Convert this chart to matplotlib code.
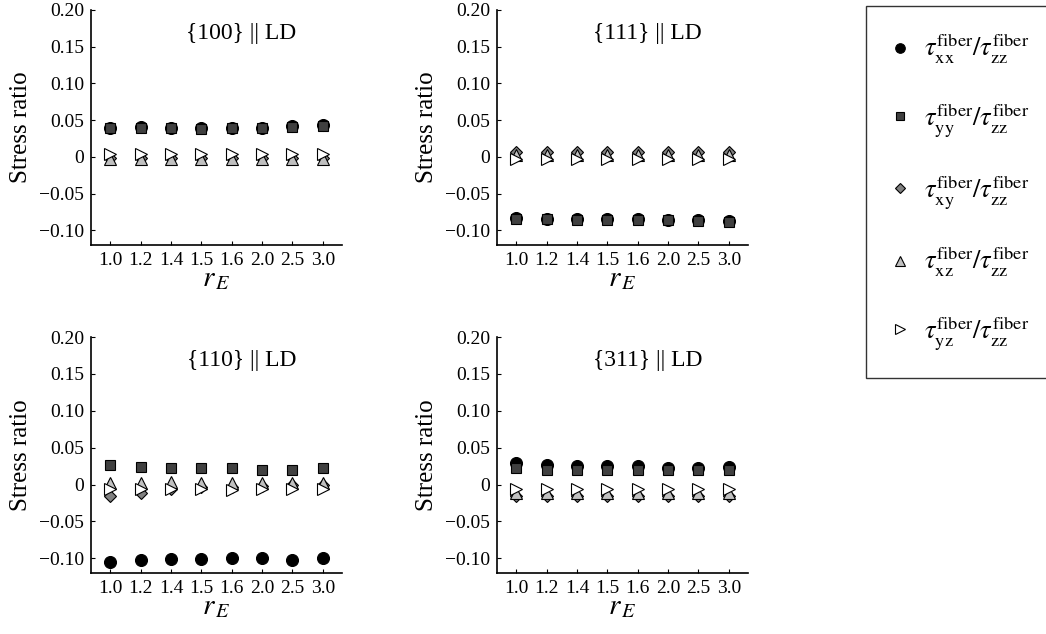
import matplotlib
matplotlib.use("Agg")
import matplotlib.pyplot as plt
import numpy as np

plt.rcParams["font.family"] = ["Liberation Serif", "DejaVu Serif"]
plt.rcParams["mathtext.fontset"] = "stix"

# data
r_labels = ["1.0", "1.2", "1.4", "1.5", "1.6", "2.0", "2.5", "3.0"]
panel_titles = ["{100} || LD", "{111} || LD", "{110} || LD", "{311} || LD"]

xx_100 = [0.040, 0.041, 0.040, 0.039, 0.040, 0.040, 0.042, 0.043]
yy_100 = [0.039, 0.040, 0.039, 0.038, 0.039, 0.039, 0.041, 0.042]
xy_100 = [-0.001, -0.001, -0.001, -0.001, -0.001, -0.001, -0.001, -0.001]
xz_100 = [-0.003, -0.003, -0.003, -0.003, -0.003, -0.003, -0.003, -0.003]
yz_100 = [0.004, 0.004, 0.004, 0.004, 0.004, 0.004, 0.004, 0.004]

xx_111 = [-0.083, -0.084, -0.085, -0.085, -0.085, -0.086, -0.086, -0.087]
yy_111 = [-0.084, -0.085, -0.086, -0.086, -0.086, -0.086, -0.087, -0.088]
xy_111 = [0.006, 0.006, 0.006, 0.006, 0.006, 0.006, 0.006, 0.006]
xz_111 = [0.002, 0.002, 0.002, 0.002, 0.002, 0.002, 0.002, 0.002]
yz_111 = [-0.003, -0.003, -0.003, -0.003, -0.003, -0.003, -0.003, -0.003]

xx_110 = [-0.105, -0.103, -0.101, -0.101, -0.100, -0.100, -0.102, -0.100]
yy_110 = [0.027, 0.024, 0.023, 0.023, 0.022, 0.019, 0.020, 0.023]
xy_110 = [-0.015, -0.011, -0.006, -0.004, -0.003, -0.002, -0.001, -0.001]
xz_110 = [0.002, 0.002, 0.003, 0.002, 0.002, 0.002, 0.002, 0.002]
yz_110 = [-0.006, -0.006, -0.006, -0.006, -0.007, -0.006, -0.006, -0.006]

xx_311 = [0.029, 0.026, 0.025, 0.025, 0.025, 0.023, 0.022, 0.024]
yy_311 = [0.022, 0.020, 0.020, 0.020, 0.020, 0.020, 0.019, 0.020]
xy_311 = [-0.015, -0.015, -0.015, -0.015, -0.015, -0.015, -0.015, -0.015]
xz_311 = [-0.012, -0.012, -0.012, -0.012, -0.012, -0.012, -0.012, -0.012]
yz_311 = [-0.006, -0.006, -0.006, -0.006, -0.006, -0.006, -0.006, -0.006]

panels = [
    [xx_100, yy_100, xy_100, xz_100, yz_100],
    [xx_111, yy_111, xy_111, xz_111, yz_111],
    [xx_110, yy_110, xy_110, xz_110, yz_110],
    [xx_311, yy_311, xy_311, xz_311, yz_311],
]

yticks = [-0.10, -0.05, 0, 0.05, 0.10, 0.15, 0.20]
ytick_labels = ["\u22120.10", "\u22120.05", "0", "0.05", "0.10", "0.15", "0.20"]

series_labels = [
    r"$\tau_{\rm xx}^{\rm fiber}/\tau_{\rm zz}^{\rm fiber}$",
    r"$\tau_{\rm yy}^{\rm fiber}/\tau_{\rm zz}^{\rm fiber}$",
    r"$\tau_{\rm xy}^{\rm fiber}/\tau_{\rm zz}^{\rm fiber}$",
    r"$\tau_{\rm xz}^{\rm fiber}/\tau_{\rm zz}^{\rm fiber}$",
    r"$\tau_{\rm yz}^{\rm fiber}/\tau_{\rm zz}^{\rm fiber}$",
]
styles = [
    dict(marker="o", ms=8.6, mfc="black"),
    dict(marker="s", ms=7.0, mfc="#404040"),
    dict(marker="D", ms=6.0, mfc="#808080"),
    dict(marker="^", ms=8.2, mfc="#c0c0c0"),
    dict(marker=">", ms=8.2, mfc="white"),
]

W, H = 1046, 634
fig = plt.figure(figsize=(W / 100, H / 100), dpi=100)

# axes boxes in pixels: (left, top, right, bottom)
boxes = [(91, 10, 342, 245), (497, 10, 748, 245), (91, 337, 342, 573), (497, 337, 748, 573)]

x = np.arange(1, len(r_labels) + 1)
handles = []
for i, (box, title, data) in enumerate(zip(boxes, panel_titles, panels)):
    l, t, r, b = box
    ax = fig.add_axes([l / W, 1 - b / H, (r - l) / W, (b - t) / H])
    for vals, st, lab in zip(data, styles, series_labels):
        h, = ax.plot(x, vals, ls="none", mec="black", mew=0.8, label=lab, **st)
        if i == 0:
            handles.append(h)
    ax.set_xlim(0.37, 8.63)
    ax.set_ylim(-0.12, 0.20)
    ax.set_xticks(x)
    ax.set_xticklabels(r_labels)
    ax.set_yticks(yticks)
    ax.set_yticklabels(ytick_labels)
    ax.tick_params(direction="in", length=3, width=0.8, labelsize=14, pad=5)
    for side in ["top", "right"]:
        ax.spines[side].set_visible(False)
    for side in ["left", "bottom"]:
        ax.spines[side].set_linewidth(1.2)
    ax.set_ylabel("Stress ratio", fontsize=18, labelpad=5)
    ax.set_xlabel(r"$r_{\,E}$", fontsize=21, labelpad=-2)
    ax.text(0.6, 0.9, title, transform=ax.transAxes, ha="center", va="center", fontsize=17)

leg = fig.legend(handles=handles, loc="upper left", bbox_to_anchor=(866 / W, 1 - 6 / H),
                 borderaxespad=0, fontsize=19, labelspacing=1.3, handletextpad=0.6,
                 borderpad=1.0, markerscale=0.8, frameon=True, fancybox=False,
                 handlelength=0.6)
leg.get_frame().set_edgecolor("black")
leg.get_frame().set_linewidth(1.0)

fig.savefig("out.png", dpi=100)
